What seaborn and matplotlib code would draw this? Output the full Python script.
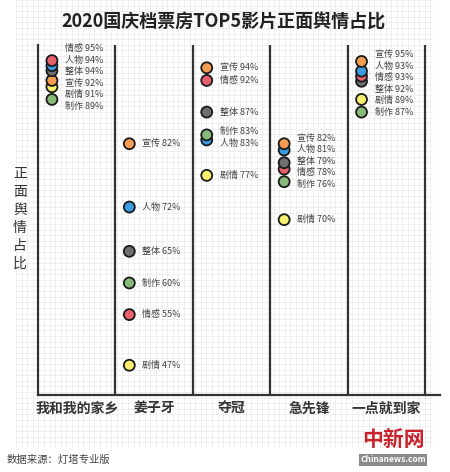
import numpy as np
import pandas as pd
import matplotlib
matplotlib.use("Agg")
import matplotlib.pyplot as plt
import seaborn as sns
from matplotlib.ticker import MultipleLocator

# ---------------- data ----------------
films = ["我和我的家乡", "姜子牙", "夺冠", "急先锋", "一点就到家"]

home_aspects = ["情感", "人物", "整体", "宣传", "剧情", "制作"]
home_values = [95, 94, 94, 92, 91, 89]
jiang_aspects = ["宣传", "人物", "整体", "制作", "情感", "剧情"]
jiang_values = [82, 72, 65, 60, 55, 47]
duo_aspects = ["宣传", "情感", "整体", "制作", "人物", "剧情"]
duo_values = [94, 92, 87, 83, 83, 77]
ji_aspects = ["宣传", "人物", "整体", "情感", "制作", "剧情"]
ji_values = [82, 81, 79, 78, 76, 70]
yi_aspects = ["宣传", "人物", "情感", "整体", "剧情", "制作"]
yi_values = [95, 93, 93, 92, 89, 87]

palette = {"情感": "#e9606d", "人物": "#3d9ce0", "整体": "#6f6f6f",
           "宣传": "#f39c52", "剧情": "#f8f06c", "制作": "#86bc78"}

title = "2020国庆档票房TOP5影片正面舆情占比"
ylabel = "正面舆情占比"
source = "数据来源：灯塔专业版"

# ---------------- build table ----------------
def repel(vals, gap, iters=300):
    y = np.array(vals, dtype=float)
    for _ in range(iters):
        for i in range(len(y) - 1):
            d = y[i] - y[i + 1]
            if d < gap:
                s = (gap - d) / 2
                y[i] += s
                y[i + 1] -= s
    return y

rows = []
for fi, (asp, vals) in enumerate([(home_aspects, home_values), (jiang_aspects, jiang_values),
                                  (duo_aspects, duo_values), (ji_aspects, ji_values),
                                  (yi_aspects, yi_values)]):
    dot_y = repel(vals, 0.8)
    lab_y = repel(vals, 1.82)
    for a, v, dy, ly in zip(asp, vals, dot_y, lab_y):
        rows.append(dict(film=films[fi], idx=fi, aspect=a, value=v, dot_y=dy, lab_y=ly))
df = pd.DataFrame(rows)
df["dot_x"] = df["idx"] + 0.18
df["lab_x"] = df["idx"] + 0.35

# ---------------- figure ----------------
sns.set_theme(style="white")
plt.rcParams["font.family"] = ["Noto Sans CJK SC", "DejaVu Sans"]

fig = plt.figure(figsize=(4.5, 4.72), dpi=100)
fig.patch.set_facecolor("white")

# graph-paper background
bg = fig.add_axes([16 / 450, 1 - 448 / 472, (433 - 16) / 450, 448 / 472])
bg.set_xlim(0, 417)
bg.set_ylim(0, 448)
bg.xaxis.set_major_locator(MultipleLocator(5.6))
bg.yaxis.set_major_locator(MultipleLocator(5.6))
bg.grid(True, color="#ececec", linewidth=0.6)
bg.tick_params(length=0, labelbottom=False, labelleft=False)
for s in bg.spines.values():
    s.set_visible(False)
bg.set_zorder(0)

# main axes
L, R, T, B = 38, 440, 45, 395
ax = fig.add_axes([L / 450, 1 - B / 472, (R - L) / 450, (B - T) / 472])
ax.set_zorder(1)
ax.patch.set_alpha(0)
ymin, ymax = 42.3, 97.6
ax.set_ylim(ymin, ymax)
ax.set_xlim(0, (R - L) / 77.4)

for i in range(1, len(films) + 1):
    ax.axvline(i, color="#333333", linewidth=1.6, zorder=1)

sns.scatterplot(data=df.iloc[::-1], x="dot_x", y="dot_y", hue="aspect", palette=palette,
                s=62, edgecolor="#1a1a1a", linewidth=1.3, legend=False, ax=ax, zorder=3)

for _, r in df.iterrows():
    ax.text(r["lab_x"], r["lab_y"], f"{r['aspect']} {r['value']}%", fontsize=6.5,
            color="#444444", ha="left", va="center", zorder=4)

for side in ["top", "right"]:
    ax.spines[side].set_visible(False)
for side in ["left", "bottom"]:
    ax.spines[side].set_color("#333333")
    ax.spines[side].set_linewidth(1.6)

ax.set_xticks(np.arange(len(films)) + 0.5)
ax.set_xticklabels(films, fontsize=10, fontweight="bold", color="#333333")
ax.set_yticks([])
ax.tick_params(axis="x", length=0, pad=5)
ax.set_xlabel("")
ax.set_ylabel("")

fig.text(20 / 450, 1 - 219 / 472, "\n".join(ylabel), fontsize=10, color="#333333",
         ha="center", va="center", linespacing=1.35)
fig.text(223 / 450, 1 - 22 / 472, title, fontsize=13, fontweight="bold",
         color="#222222", ha="center", va="center")
fig.text(7 / 450, 1 - 460 / 472, source, fontsize=7.5, color="#444444",
         ha="left", va="center")

# watermark
fig.text(393 / 450, 1 - 440 / 472, "中新网", fontsize=15, fontweight="bold",
         color="#c8232c", ha="center", va="center")
fig.text(393 / 450, 1 - 460 / 472, "Chinanews.com", fontsize=6, fontweight="bold",
         color="white", ha="center", va="center",
         bbox=dict(boxstyle="square,pad=0.15", fc="#8a8a8a", ec="none"))

fig.savefig("out.png", dpi=100, facecolor="white")
